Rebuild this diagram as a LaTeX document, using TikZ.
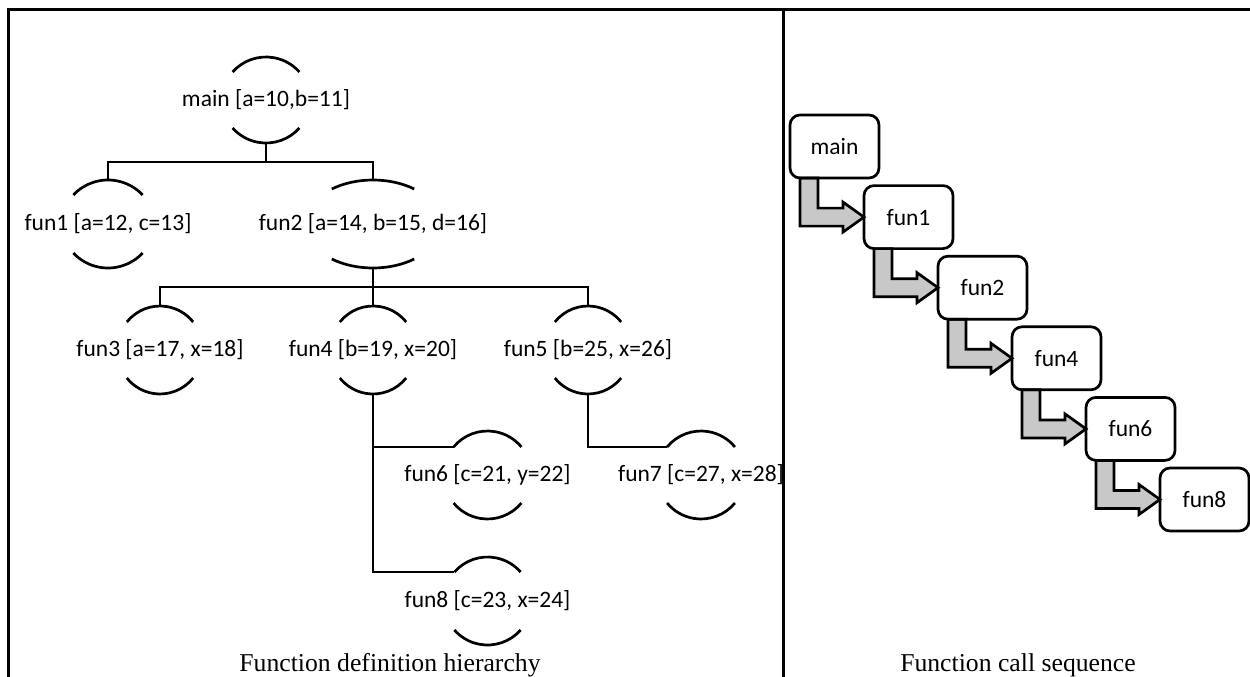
\documentclass[tikz,border=0pt]{standalone}
\usepackage{fontspec}
\setmainfont{Liberation Serif}
\newfontfamily\carlito{Carlito}
\usetikzlibrary{calc}
\definecolor{arrowgray}{RGB}{200,200,200}
\newcommand\tnode[7]{% name, cx, cy, a, b, h, text
  \pgfmathsetmacro\tzero{asin(#6/#5)}
  \node[tlabel] (#1) at (#2,#3) {#7};
  \coordinate (#1-top) at (#2,#3-#5);
  \coordinate (#1-bot) at (#2,#3+#5);
  \coordinate (#1-tl) at ($(#2,#3)+(180+\tzero:#4 and #5)$);
  \coordinate (#1-br) at ($(#2,#3)+(\tzero:#4 and #5)$);
  \draw[tarc] (#1-tl) arc[start angle=180+\tzero, end angle=360-\tzero, x radius=#4, y radius=#5];
  \draw[tarc] (#1-br) arc[start angle=\tzero, end angle=180-\tzero, x radius=#4, y radius=#5];
}
\begin{document}
\begin{tikzpicture}[x=1pt,y=1pt,yscale=-1,
  tlabel/.style={inner sep=0pt, font=\carlito\fontsize{23.5}{28}\selectfont},
  tarc/.style={line width=2.7pt},
  tline/.style={line width=2.7pt},
  callbox/.style={draw, line width=2.7pt, rounded corners=10pt, minimum width=89pt, minimum height=63pt, inner sep=0pt, font=\carlito\fontsize{23.5}{28}\selectfont},
  callarrow/.style={draw, fill=arrowgray, line width=2.7pt, line join=miter},
  frameline/.style={line width=3pt},
  caption/.style={font=\fontsize{25.7}{30}\selectfont, anchor=base, inner sep=0pt}]
\useasboundingbox (0,0) rectangle (1250,677);

% ---- definition hierarchy ----
\tnode{main}{266}{100}{44}{43}{28}{main [a=10,b=11]}
\tnode{fa}{108}{224}{46}{44}{29}{fun1 [a=12, c=13]}
\tnode{fb}{373}{224}{68}{44}{35}{fun2 [a=14, b=15, d=16]}
\tnode{fc}{160}{350}{43}{44}{28}{fun3 [a=17, x=18]}
\tnode{fd}{373}{350}{43}{44}{28}{fun4 [b=19, x=20]}
\tnode{fe}{588}{350}{43}{44}{28}{fun5 [b=25, x=26]}
\tnode{ff}{487.5}{475}{44}{44}{28}{fun6 [c=21, y=22]}
\tnode{fg}{701}{475}{44}{44}{28}{fun7 [c=27, x=28]}
\tnode{fh}{487.5}{601}{44}{44}{29}{fun8 [c=23, x=24]}

\coordinate (bus1) at (266,162);
\coordinate (bus2) at (373,287);
\draw[tline] (main-bot) -- (bus1);
\draw[tline] (fa-top) |- (bus1) -| (fb-top);
\draw[tline] (fb-bot) -- (bus2);
\draw[tline] (fc-top) |- (bus2) -| (fe-top);
\draw[tline] (bus2) -- (fd-top);
\draw[tline] (fd-bot) |- (fh-tl);
\draw[tline] (fd-bot |- ff-tl) -- (ff-tl);
\draw[tline] (fe-bot) |- (fg-tl);

% ---- call sequence ----
\foreach \i/\t in {0/main,1/fun1,2/fun2,3/fun4,4/fun6,5/fun8}{
  \coordinate (c\i) at (834.5+74*\i,146.5+70.6*\i);
}
\foreach \i/\j in {0/1,1/2,2/3,3/4,4/5}{
  \path (c\j) ++(-44.5,0) coordinate (tip\i);
  \draw[callarrow] ($(c\i)+(-34.5,31.5)$) |- ($(tip\i)+(-21,9)$) -- ++(0,6) -- (tip\i) -- ++(-21,-15) -- ++(0,6) -| ($(c\i)+(-16.5,31.5)$) -- cycle;
}
\node[callbox] (b0) at (c0) {main};
\node[callbox] (b1) at (c1) {fun1};
\node[callbox] (b2) at (c2) {fun2};
\node[callbox] (b3) at (c3) {fun4};
\node[callbox] (b4) at (c4) {fun6};
\node[callbox] (b5) at (c5) {fun8};

% ---- captions ----
\node[caption] (cap1) at (390,671) {Function definition hierarchy};
\node[caption] (cap2) at (1018,671) {Function call sequence};

% ---- frame ----
\draw[frameline] (8,677) -- (8,10) -- (1250,10);
\draw[frameline] (783,10) -- (783,677);
\end{tikzpicture}
\end{document}
